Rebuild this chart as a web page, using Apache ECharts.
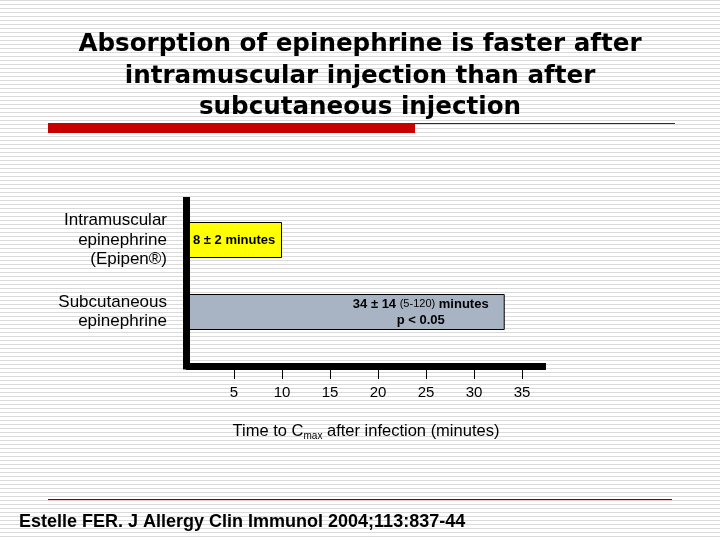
<!DOCTYPE html>
<html>
<head>
<meta charset="utf-8">
<script src="https://cdn.jsdelivr.net/npm/echarts@6/dist/echarts.min.js"></script>
<style>
  html, body { margin: 0; padding: 0; }
  /* slide background: white with thin grey horizontal stripes */
  #chart {
    width: 720px;
    height: 540px;
    background: repeating-linear-gradient(to bottom, #dadada 0, #dadada 1px, #ffffff 1px, #ffffff 4px);
  }
</style>
</head>
<body>
<div id="chart"></div>
<script>
// data
const categories = ['Intramuscular\nepinephrine\n(Epipen®)', 'Subcutaneous\nepinephrine']
const timeToCmax = [10, 33.2]
const barColors = ['#ffff00', '#a8b4c4']
const tickValues = [5, 10, 15, 20, 25, 30, 35]
const axisMax = 37.5

const chart = echarts.init(document.getElementById('chart'))

const option = {
  animation: false,
  title: [
    {
      text: 'Absorption of epinephrine is faster after\nintramuscular injection than after\nsubcutaneous injection',
      left: 'center',
      top: 24,
      textStyle: {
        fontFamily: 'DejaVu Sans',
        fontWeight: 'bold',
        fontSize: 24.6,
        lineHeight: 31.5,
        color: '#000',
        align: 'center',
      },
    },
    {
      text: 'Estelle FER. J Allergy Clin Immunol 2004;113:837-44',
      left: 19,
      top: 513,
      padding: 0,
      textStyle: {
        fontFamily: '"Liberation Sans Narrow", "Liberation Sans", Arial',
        fontWeight: 'bold',
        fontSize: 18,
        color: '#000',
      },
    },
  ],
  graphic: [
    { type: 'rect', shape: { x: 48, y: 123, width: 367, height: 10 }, style: { fill: '#c80000' } },
    { type: 'line', shape: { x1: 415, y1: 123.5, x2: 675, y2: 123.5 }, style: { stroke: '#8a0a0a', lineWidth: 1 } },
    { type: 'line', shape: { x1: 48, y1: 499.5, x2: 672, y2: 499.5 }, style: { stroke: '#6a1010', lineWidth: 1 } },
    { type: 'line', shape: { x1: 48, y1: 500.5, x2: 672, y2: 500.5 }, style: { stroke: '#f4c8c8', lineWidth: 1 } },
  ],
  grid: [
    // bars
    { left: 186, right: 174, top: 204, bottom: 192 },
    // axes frame
    { left: 186, right: 174, top: 200.5, bottom: 174 },
  ],
  xAxis: [
    {
      gridIndex: 0,
      type: 'value',
      min: 0,
      max: axisMax,
      show: false,
    },
    {
      gridIndex: 1,
      type: 'value',
      min: 0,
      max: axisMax,
      z: 10,
      axisLine: { show: true, lineStyle: { color: '#000', width: 7, cap: 'butt' } },
      axisTick: { show: true, length: 13, customValues: tickValues, lineStyle: { color: '#000', width: 1 } },
      axisLabel: {
        customValues: tickValues,
        color: '#000',
        fontFamily: 'Liberation Sans, Arial',
        fontSize: 15,
        margin: 19,
      },
      splitLine: { show: false },
      name: '{a|Time to C}{s|max}{a| after infection (minutes)}',
      nameLocation: 'middle',
      nameGap: 55,
      nameTextStyle: {
        rich: {
          a: { fontFamily: 'Liberation Sans, Arial', fontSize: 16.5, lineHeight: 20, color: '#000' },
          s: { fontFamily: 'Liberation Sans, Arial', fontSize: 10, lineHeight: 10, verticalAlign: 'bottom', color: '#000' },
        },
      },
    },
  ],
  yAxis: [
    {
      gridIndex: 0,
      type: 'category',
      inverse: true,
      data: categories,
      axisLine: { show: false },
      axisTick: { show: false },
      axisLabel: {
        color: '#000',
        fontFamily: 'Liberation Sans, Arial',
        fontSize: 17,
        lineHeight: 19.5,
        margin: 19,
      },
    },
    {
      gridIndex: 1,
      type: 'value',
      min: 0,
      max: 1,
      z: 10,
      axisLine: { show: true, lineStyle: { color: '#000', width: 7, cap: 'square' } },
      axisTick: { show: false },
      axisLabel: { show: false },
      splitLine: { show: false },
    },
  ],
  series: [
    {
      type: 'bar',
      xAxisIndex: 0,
      yAxisIndex: 0,
      barWidth: 36,
      data: timeToCmax.map((v, i) => ({
        value: v,
        itemStyle: { color: barColors[i], borderColor: '#000', borderWidth: 1 },
        label: i === 0
          ? {
              show: true,
              position: 'insideLeft',
              distance: 7,
              formatter: '{b|8 ± 2 minutes}',
            }
          : {
              show: true,
              position: ['100%', '50%'],
              offset: [-84, 0],
              align: 'center',
              verticalAlign: 'middle',
              formatter: '{b|34 ± 14 }{s|(5-120)}{b| minutes}\n{b|p < 0.05}',
            },
      })),
      label: {
        rich: {
          b: { fontFamily: 'Liberation Sans, Arial', fontWeight: 'bold', fontSize: 13, lineHeight: 16, color: '#000' },
          s: { fontFamily: 'Liberation Sans, Arial', fontSize: 11, lineHeight: 16, color: '#000' },
        },
      },
    },
  ],
}

chart.setOption(option)
</script>
</body>
</html>
